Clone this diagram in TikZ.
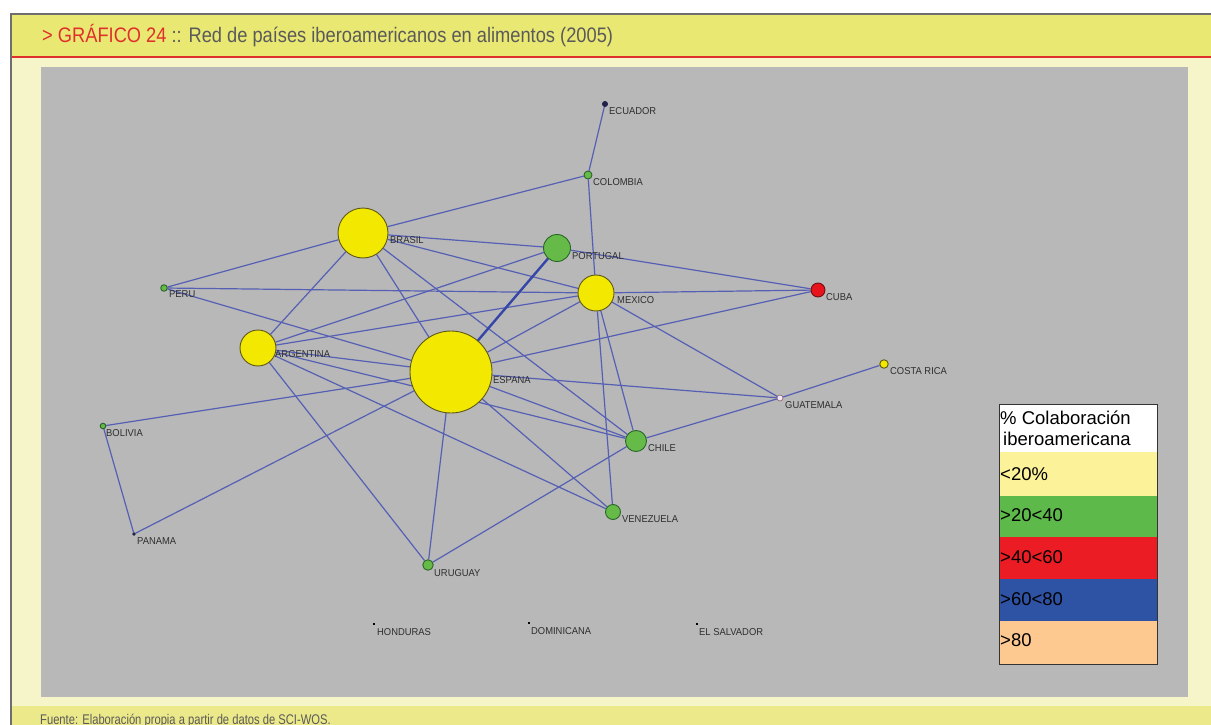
\documentclass[tikz,border=0pt]{standalone}
\usepackage{fontspec}
\setmainfont{Liberation Sans}
\newfontfamily\titlefont[FakeStretch=0.87]{Liberation Sans}
\newfontfamily\footfont[FakeStretch=0.8]{Liberation Sans}
\newfontfamily\labfont[FakeStretch=0.94]{Liberation Sans}
\definecolor{titleyellow}{HTML}{E9E873}
\definecolor{cream}{HTML}{F5F5C9}
\definecolor{footyellow}{HTML}{ECE98A}
\definecolor{plotgray}{HTML}{B8B8B8}
\definecolor{framegray}{HTML}{6E6E6E}
\definecolor{titlered}{HTML}{E0302C}
\definecolor{titlegray}{HTML}{5A5A5A}
\definecolor{edgeblue}{HTML}{5560B4}
\definecolor{edgedark}{HTML}{3646A8}
\definecolor{nodeyellow}{HTML}{F2E800}
\definecolor{yellowedge}{HTML}{5E5818}
\definecolor{nodegreen}{HTML}{66BB48}
\definecolor{greenedge}{HTML}{2A662A}
\definecolor{nodered}{HTML}{E8141C}
\definecolor{rededge}{HTML}{701010}
\definecolor{navy}{HTML}{20224A}
\definecolor{pinkish}{HTML}{F6E4F0}
\definecolor{guaedge}{HTML}{806070}
\definecolor{labelgray}{HTML}{2E2E2E}
\definecolor{legyellow}{HTML}{FBF29A}
\definecolor{leggreen}{HTML}{5DB94A}
\definecolor{legred}{HTML}{EC1C24}
\definecolor{legblue}{HTML}{2E52A4}
\definecolor{legpeach}{HTML}{FDC990}
\pgfdeclarelayer{bg}
\pgfdeclarelayer{links}
\pgfsetlayers{bg,links,main}
\begin{document}
\begin{tikzpicture}[x=1pt,y=-1pt,
  nd/.style={circle, inner sep=0pt, line width=0.9pt},
  sz/.style={minimum size=#1},
  yel/.style={nd, fill=nodeyellow, draw=yellowedge},
  grn/.style={nd, fill=nodegreen, draw=greenedge},
  rd/.style={nd, fill=nodered, draw=rededge},
  dotmark/.style={rectangle, fill=black, inner sep=0pt, minimum width=2.5pt, minimum height=1.6pt},
  lab/.style={anchor=base west, inner sep=0pt, font=\labfont\fontsize{10}{12}\selectfont, text=labelgray},
  link/.style={draw=edgeblue, line width=1.2pt},
  thicklink/.style={draw=edgedark, line width=2.4pt},
  legtext/.style={anchor=west, inner sep=0pt, font=\fontsize{18.5}{20}\selectfont, text=black}
]
\useasboundingbox (0,0) rectangle (1211,725);

% nodes
\node[nd, sz=5pt, fill=navy, draw=navy] (ecu) at (605,104) {};
\node[grn, sz=8pt] (col) at (588,175) {};
\node[yel, sz=50pt] (bra) at (363,233) {};
\node[grn, sz=27pt] (por) at (557,248) {};
\node[grn, sz=6.5pt] (per) at (164,288) {};
\node[yel, sz=36pt] (mex) at (596,293) {};
\node[rd, sz=14pt] (cub) at (818,290) {};
\node[yel, sz=36pt] (arg) at (258,348) {};
\node[yel, sz=82pt] (esp) at (451,372) {};
\node[yel, sz=8.5pt] (cri) at (884,364) {};
\node[nd, sz=6pt, fill=pinkish, draw=guaedge, line width=0.6pt] (gua) at (780,398) {};
\node[grn, sz=5.5pt, line width=1pt] (bol) at (103,426) {};
\node[grn, sz=21pt] (chi) at (636,441) {};
\node[grn, sz=15pt] (ven) at (613,512) {};
\node[nd, sz=2.5pt, fill=navy, draw=navy] (pan) at (134,534) {};
\node[grn, sz=10.5pt] (uru) at (428,565) {};
\node[dotmark] (hon) at (374,624) {};
\node[dotmark] (dom) at (529,623) {};
\node[dotmark] (sal) at (697,624) {};

% labels
\node[lab] (lecu) at (609,114.5) {ECUADOR};
\node[lab] (lcol) at (593,185.5) {COLOMBIA};
\node[lab] (lpor) at (572,259.5) {PORTUGAL};
\node[lab] (lmex) at (617,303.5) {MEXICO};
\node[lab] (lcub) at (826,300.5) {CUBA};
\node[lab] (lbra) at (390,243.5) {BRASIL};
\node[lab] (lper) at (169,297.5) {PERU};
\node[lab] (larg) at (275,357.5) {ARGENTINA};
\node[lab] (lesp) at (493,383.5) {ESPANA};
\node[lab] (lchi) at (648,451.5) {CHILE};
\node[lab] (lven) at (622,522.5) {VENEZUELA};
\node[lab] (lgua) at (785,408.5) {GUATEMALA};
\node[lab] (lcri) at (890,374.5) {COSTA RICA};
\node[lab] (lbol) at (106,436.5) {BOLIVIA};
\node[lab] (lpan) at (137,544.5) {PANAMA};
\node[lab] (luru) at (434,576.5) {URUGUAY};
\node[lab] (lhon) at (377,635.5) {HONDURAS};
\node[lab] (ldom) at (531,634.5) {DOMINICANA};
\node[lab] (lsal) at (699,635.5) {EL SALVADOR};

% legend
\fill[white] (999,404) rectangle (1157,452);
\fill[legyellow] (999,452) rectangle (1157,496);
\fill[leggreen] (999,496) rectangle (1157,537);
\fill[legred] (999,537) rectangle (1157,579);
\fill[legblue] (999,579) rectangle (1157,621);
\fill[legpeach] (999,621) rectangle (1157,664);
\draw[line width=1pt, draw=black!80] (999,404) rectangle (1157,664);
\node[legtext] (lh1) at (1000,418) {\% Colaboración};
\node[legtext] (lh2) at (1003,439) {iberoamericana};
\node[legtext] (l1) at (1000,474) {<20\%};
\node[legtext] (l2) at (1000,515) {>20<40};
\node[legtext] (l3) at (1000,557) {>40<60};
\node[legtext] (l4) at (1000,599) {>60<80};
\node[legtext] (l5) at (1000,640) {>80};

% title and footer
\node[anchor=west, inner sep=0pt, font=\titlefont\fontsize{21}{24}\selectfont] (title) at (42,36)
  {\textcolor{titlered}{> GRÁFICO 24} \textcolor{titlegray}{:: Red de países iberoamericanos en alimentos (2005)}};
\node[anchor=base west, inner sep=0pt, font=\footfont\fontsize{14}{16}\selectfont, text=titlegray] (foot) at (40,724)
  {Fuente: Elaboración propia a partir de datos de SCI-WOS.};

\begin{pgfonlayer}{bg}
  \fill[titleyellow] (11,14) rectangle (1211,57);
  \fill[cream] (11,57) rectangle (1211,706);
  \fill[footyellow] (11,706) rectangle (1211,725);
  \fill[plotgray] (41,67) rectangle (1188,697);
  \draw[titlered, line width=1.2pt] (11,57) -- (1211,57);
  \draw[framegray, line width=1.2pt] (11,725) -- (11,14) -- (1211,14);
\end{pgfonlayer}

\begin{pgfonlayer}{links}
  \foreach \a/\b in {ecu/col, col/mex, col/bra, bra/per, bra/por, bra/mex, bra/arg, bra/esp, bra/chi,
    por/arg, por/cub, per/mex, per/esp, mex/cub, mex/arg, mex/esp, mex/chi, mex/ven, mex/gua,
    cub/esp, arg/esp, arg/chi, arg/ven, arg/uru, esp/gua, esp/chi, esp/ven, esp/uru, esp/bol,
    esp/pan, bol/pan, gua/cri, gua/chi, chi/uru}
    \draw[link] (\a) -- (\b);
  \draw[thicklink] (por) -- (esp);
\end{pgfonlayer}
\end{tikzpicture}
\end{document}
